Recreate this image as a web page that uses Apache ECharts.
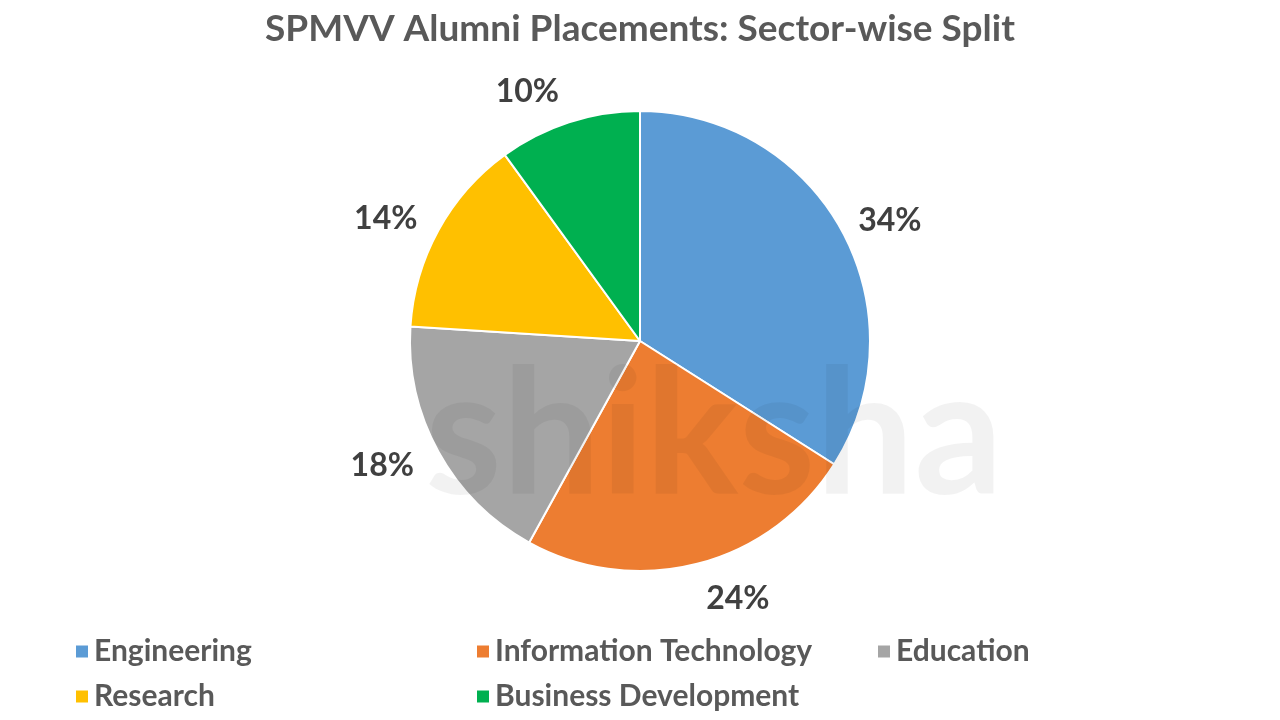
<!DOCTYPE html>
<html>
<head>
<meta charset="utf-8">
<script src="https://cdn.jsdelivr.net/npm/echarts@6/dist/echarts.min.js"></script>
<style>
html,body{margin:0;padding:0;background:#fff;}
#chart{width:1280px;height:720px;}
</style>
</head>
<body>
<div id="chart"></div>
<script>
const titleText = 'SPMVV Alumni Placements: Sector-wise Split';
const categories = ['Engineering', 'Information Technology', 'Education', 'Research', 'Business Development'];
const shares = [34, 24, 18, 14, 10];
const colors = ['#5B9BD5', '#ED7D31', '#A5A5A5', '#FFC000', '#00B050'];
// per-slice label offset (style only)
const labelLengths = [19, 36, 28, 24, 32];

const FONT = 'Lato, "Open Sans", sans-serif';
const chart = echarts.init(document.getElementById('chart'));
chart.setOption({
  backgroundColor: '#ffffff',
  color: colors,
  title: {
    text: titleText,
    left: 'center',
    top: 6,
    textStyle: { fontFamily: FONT, fontWeight: 'bold', fontSize: 37, color: '#595959' }
  },
  legend: {
    left: 74,
    top: 634,
    padding: 0,
    width: 1200,
    itemWidth: 14,
    itemHeight: 14,
    itemGap: 10,
    icon: 'rect',
    textStyle: { fontFamily: FONT, fontWeight: 'bold', fontSize: 30, color: '#595959', width: 371, lineHeight: 35 },
    data: categories
  },
  graphic: [{
    type: 'text',
    left: 425,
    top: 350,
    z: 100,
    silent: true,
    style: { text: 'shiksha', fontFamily: FONT, fontWeight: 'bold', fontSize: 175, fill: 'rgba(0,0,0,0.05)' }
  }],
  series: [{
    type: 'pie',
    center: [640, 341],
    radius: [0, 230],
    startAngle: 90,
    clockwise: true,
    avoidLabelOverlap: false,
    itemStyle: { borderColor: '#ffffff', borderWidth: 2 },
    label: {
      show: true,
      position: 'outside',
      formatter: p => p.value + '%',
      fontFamily: FONT,
      fontWeight: 'bold',
      fontSize: 32,
      color: '#404040',
      distanceToLabelLine: 0
    },
    labelLine: { show: false, length: 28, length2: 0 },
    emphasis: { disabled: true },
    data: categories.map((c, i) => ({
      name: c,
      value: shares[i],
      labelLine: { show: false, length: labelLengths[i], length2: 0 }
    }))
  }]
});
</script>
</body>
</html>
